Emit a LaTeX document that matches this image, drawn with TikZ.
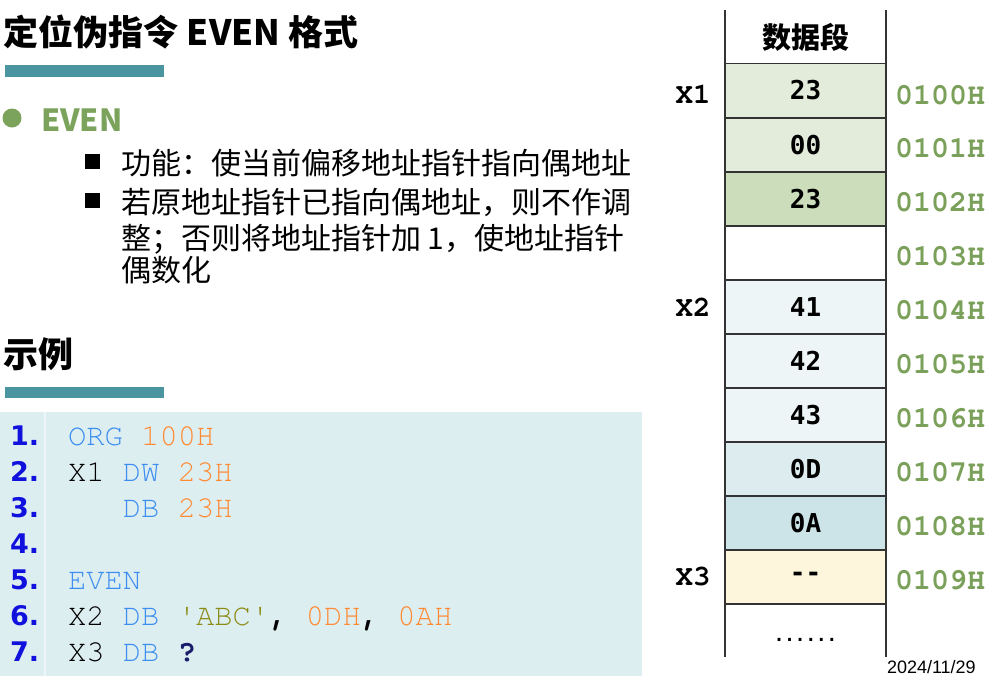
\documentclass[tikz,border=0pt]{standalone}
\usepackage{fontspec}
\newfontfamily\cjk{Noto Sans CJK SC}
\newfontfamily\codefont{TeX Gyre Cursor}
\newfontfamily\dvmono{DejaVu Sans Mono}
\newfontfamily\dvsans{DejaVu Sans}
\newfontfamily\datefont{Liberation Sans}
\definecolor{teal}{HTML}{4A959F}
\definecolor{evengreen}{HTML}{7BA35C}
\definecolor{addrgreen}{HTML}{7AA05A}
\definecolor{cellA}{HTML}{E3ECDA}
\definecolor{cellB}{HTML}{CCDDBB}
\definecolor{cellC}{HTML}{EDF5F7}
\definecolor{cellD}{HTML}{DCECEF}
\definecolor{cellE}{HTML}{CCE3E7}
\definecolor{cellF}{HTML}{FDF5DC}
\definecolor{codebg}{HTML}{DDEEF1}
\definecolor{gutter}{HTML}{EEF6F8}
\definecolor{kw}{HTML}{3D8EF0}
\definecolor{num}{HTML}{FF8A33}
\definecolor{str}{HTML}{8B8B14}
\definecolor{lnum}{HTML}{1111DD}
\definecolor{qmark}{HTML}{1B1B6B}
\definecolor{memline}{HTML}{333333}
\tikzset{
  txt/.style={inner sep=0pt, outer sep=0pt, anchor=base west},
  cell/.style={draw=memline, line width=1.2pt, minimum width=161pt, minimum height=54pt, inner sep=0pt,
     font=\dvmono\bfseries\fontsize{26}{26}\selectfont},
  xlab/.style={inner sep=0pt, anchor=base, font=\codefont\bfseries\fontsize{29}{29}\selectfont},
  addr/.style={inner sep=0pt, anchor=base, text=addrgreen, font=\codefont\bfseries\fontsize{30}{30}\selectfont},
  code/.style={txt, font=\codefont\fontsize{30.5}{30.5}\selectfont},
  lno/.style={txt, text=lnum, font=\dvsans\bfseries\fontsize{27}{27}\selectfont},
  body/.style={txt, font=\cjk\fontsize{30}{30}\selectfont},
  sq/.style={fill=black, minimum size=15pt, inner sep=0pt}
}
\begin{document}
\begin{tikzpicture}[x=1pt,y=-1pt]
\useasboundingbox (0,0) rectangle (998,675);
% title
\node[txt, font=\cjk\bfseries\fontsize{35}{35}\selectfont] (title) at (4,45) {定位伪指令 EVEN 格式};
\fill[teal] (5,65) rectangle (164,77);
\node[circle, fill=evengreen, minimum size=19pt, inner sep=0pt] (dot) at (12,118) {};
\node[txt, text=evengreen, font=\cjk\bfseries\fontsize{30.5}{30.5}\selectfont] (even) at (41,131) {EVEN};
\node[sq] (sq1) at (92,161) {};
\node[sq] (sq2) at (92,200) {};
\node[body] (b1) at (121,174) {功能：使当前偏移地址指针指向偶地址};
\node[body] (b2) at (121,213) {若原地址指针已指向偶地址，则不作调};
\node[body] (b3) at (121,249) {整；否则将地址指针加 1，使地址指针};
\node[body] (b4) at (121,281) {偶数化};
\node[txt, font=\cjk\bfseries\fontsize{35}{35}\selectfont] (ex) at (4,367) {示例};
\fill[teal] (5,387) rectangle (164,398);
% code block
\fill[codebg] (0,412) rectangle (642,680);
\draw[gutter, line width=1.5pt] (45,412) -- (45,680);
\foreach \i in {1,...,7} {
  \node[lno] (n\i) at (10,445+36*\i-36) {\i.};
}
\node[code] (c1) at (68,445) {\textcolor{kw}{ORG} \textcolor{num}{100H}};
\node[code] (c2) at (68,481) {X1 \textcolor{kw}{DW} \textcolor{num}{23H}};
\node[code] (c3) at (68,517) {\phantom{X1} \textcolor{kw}{DB} \textcolor{num}{23H}};
\node[code] (c5) at (68,589) {\textcolor{kw}{EVEN}};
\node[code] (c6) at (68,625) {X2 \textcolor{kw}{DB} \textcolor{str}{'ABC'}\textbf{,} \textcolor{num}{0DH}\textbf{,} \textcolor{num}{0AH}};
\node[code] (c7) at (68,661) {X3 \textcolor{kw}{DB} \textcolor{qmark}{\bfseries ?}};
% memory
\node[inner sep=0pt, font=\cjk\bfseries\fontsize{29}{29}\selectfont] (hdr) at (805.5,37) {数据段};
\node[cell, fill=cellA] (m0) at (805.5,90.5) {23};
\node[cell, fill=cellA] (m1) at (805.5,145) {00};
\node[cell, fill=cellB] (m2) at (805.5,199) {23};
\node[cell, fill=white] (m3) at (805.5,253) {};
\node[cell, fill=cellC] (m4) at (805.5,307) {41};
\node[cell, fill=cellC] (m5) at (805.5,361) {42};
\node[cell, fill=cellC] (m6) at (805.5,415) {43};
\node[cell, fill=cellD] (m7) at (805.5,469) {0D};
\node[cell, fill=cellE] (m8) at (805.5,523) {0A};
\node[cell, fill=cellF] (m9) at (805.5,577) {-{}-};
\node[inner sep=0pt, anchor=base, font=\dvmono\bfseries\fontsize{17.5}{17.5}\selectfont] (mdots) at (805.5,641) {......};
\draw[memline, line width=1.3pt] (725,10) -- (725,657);
\draw[memline, line width=1.3pt] (886,10) -- (886,657);
\node[xlab] (x1) at (693,103) {X1};
\node[xlab] (x2) at (693,316) {X2};
\node[xlab] (x3) at (693,585) {X3};
\foreach \k/\a in {0/0100H,1/0101H,2/0102H,3/0103H,4/0104H,5/0105H,6/0106H,7/0107H,8/0108H,9/0109H} {
  \node[addr] (a\k) at (940,104+53.9*\k) {\a};
}
\node[txt, font=\datefont\fontsize{18}{18}\selectfont] (date) at (887,673) {2024/11/29};
\end{tikzpicture}
\end{document}
